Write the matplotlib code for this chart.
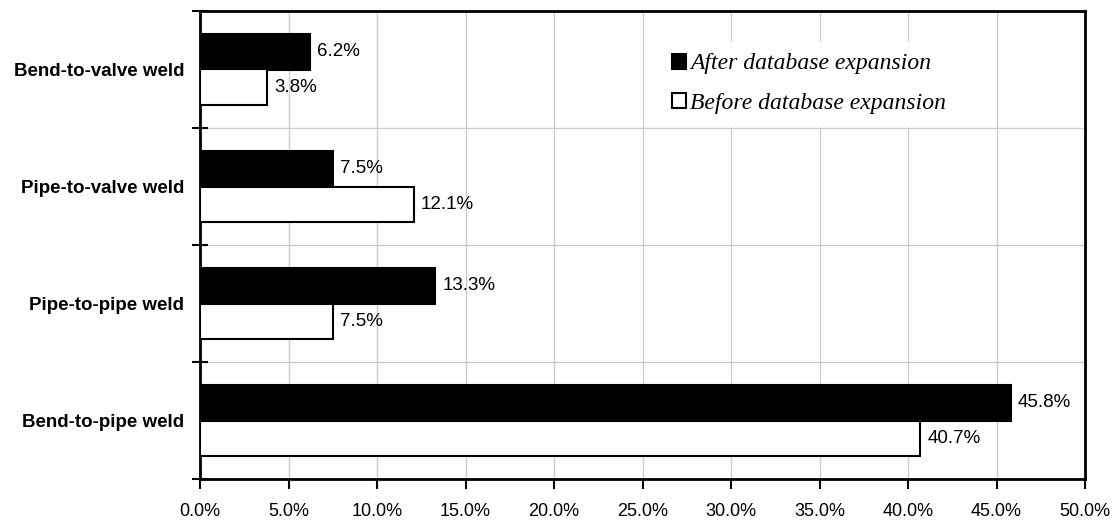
import numpy as np
import matplotlib.pyplot as plt
from matplotlib.patches import Patch
from matplotlib.ticker import FormatStrFormatter

# weld types, bottom to top
welds = ["Bend-to-pipe weld", "Pipe-to-pipe weld", "Pipe-to-valve weld", "Bend-to-valve weld"]
after = [45.8, 13.3, 7.5, 6.2]
before = [40.7, 7.5, 12.1, 3.8]

plt.rcParams['font.family'] = ['Liberation Sans', 'DejaVu Sans']

fig = plt.figure(figsize=(11.17, 5.22), dpi=100)
ax = fig.add_axes([200/1117, 1 - 479/522, 885/1117, 468/522])

y = np.arange(len(welds))
h = 0.3
b1 = ax.barh(y + h/2, after, height=h, color='black', edgecolor='black', lw=1.5, zorder=3)
b2 = ax.barh(y - h/2, before, height=h, color='white', edgecolor='black', lw=1.5, zorder=3)
ax.bar_label(b1, fmt='%.1f%%', padding=5, fontsize=13.5)
ax.bar_label(b2, fmt='%.1f%%', padding=5, fontsize=13.5)

ax.set_xlim(0, 50)
ax.set_ylim(-0.5, 3.5)
ax.set_xticks(np.arange(0, 50.1, 5))
ax.xaxis.set_major_formatter(FormatStrFormatter('%.1f%%'))
ax.set_yticks(y)
ax.set_yticklabels(welds, fontweight='bold', fontsize=13.5)
ax.set_yticks(np.arange(-0.5, 3.6, 1), minor=True)
ax.tick_params(axis='y', which='major', length=0, pad=11.5)
ax.tick_params(axis='y', which='minor', direction='inout', length=11, width=1.5)
ax.tick_params(axis='x', length=7, width=1.5, labelsize=13, pad=10)

ax.grid(True, axis='x', which='major', color='#cccccc', lw=1, zorder=0)
ax.grid(True, axis='y', which='minor', color='#cccccc', lw=1, zorder=0)
for s in ax.spines.values():
    s.set_linewidth(2)

handles = [Patch(facecolor='black', edgecolor='black', lw=1.5),
           Patch(facecolor='white', edgecolor='black', lw=1.5)]
leg = ax.legend(handles, ["After database expansion", "Before database expansion"],
                loc='upper left', bbox_to_anchor=(0.507, 0.96), frameon=True,
                prop={'family': 'Liberation Serif', 'style': 'italic', 'size': 17},
                handlelength=0.6, handleheight=0.6, handletextpad=0.15,
                labelspacing=0.8, borderpad=0.5)
leg.get_frame().set_edgecolor('white')
leg.get_frame().set_facecolor('white')
leg.get_frame().set_alpha(1)
leg.set_zorder(5)

fig.savefig('out.png', dpi=100)
